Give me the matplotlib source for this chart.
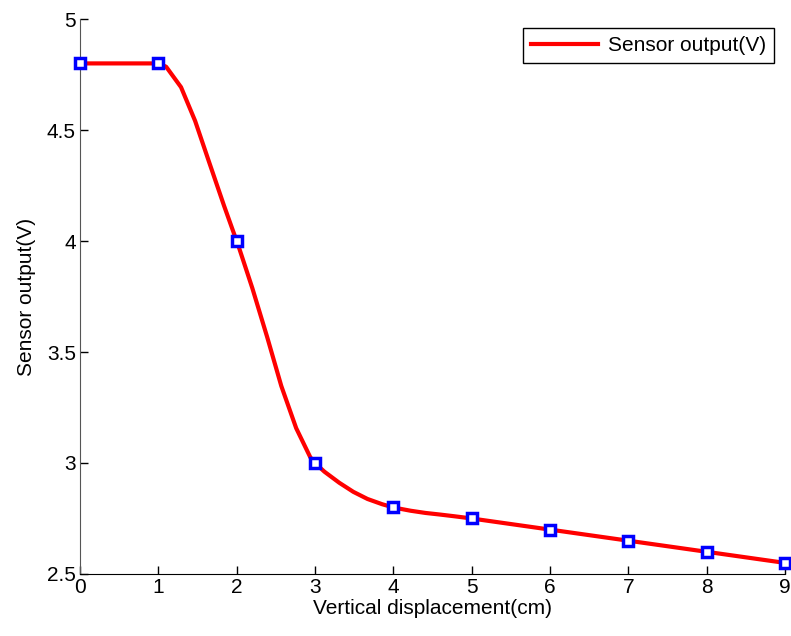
import numpy as np
import matplotlib
matplotlib.use("Agg")
import matplotlib.pyplot as plt

plt.rcParams['font.family'] = ['Liberation Sans', 'DejaVu Sans']

# -------------------------
# measured points (markers)
# -------------------------
disp_cm = [0, 1, 2, 3, 4, 5, 6, 7, 8, 9]
volts = [4.8, 4.8, 4.0, 3.0, 2.8, 2.75, 2.7, 2.65, 2.6, 2.55]

# smooth red curve, vertices
curve_x = [0.0, 1.0, 1.10, 1.29, 1.47, 1.65, 1.84,
           2.0, 2.02, 2.20, 2.39, 2.57, 2.76, 2.94,
           3.0, 3.12, 3.31, 3.49, 3.67, 3.86,
           4.0, 4.04, 4.22, 4.41, 4.59, 4.78, 4.96, 9.0]
curve_y = [4.8, 4.8, 4.785, 4.693, 4.541, 4.354, 4.158,
           4.0, 3.981, 3.788, 3.567, 3.347, 3.157, 3.026,
           3.0, 2.961, 2.911, 2.870, 2.838, 2.814,
           2.8, 2.797, 2.785, 2.775, 2.768, 2.760, 2.752, 2.55]

fig = plt.figure(figsize=(7.91, 6.36), dpi=100)
ax = fig.add_axes([0.1011, 0.0975, 0.8913, 0.8726])

ax.plot(curve_x, curve_y, color="red", lw=3, label="Sensor output(V)", zorder=2)
ax.plot(disp_cm, volts, ls="none", marker="s", ms=7.5, mfc="white",
        mec="blue", mew=2.5, zorder=3, clip_on=False)

ax.set_xlim(0, 9)
ax.set_ylim(2.5, 5)
ax.set_xticks(range(0, 10))
ax.set_yticks([2.5, 3, 3.5, 4, 4.5, 5])
ax.set_yticklabels(["2.5", "3", "3.5", "4", "4.5", "5"])
ax.tick_params(direction="in", length=6, labelsize=15, width=1, pad=3)
ax.spines["top"].set_visible(False)
ax.spines["right"].set_visible(False)
ax.spines["left"].set_color("#555555")
ax.spines["bottom"].set_color("black")

ax.set_xlabel("Vertical displacement(cm)", fontsize=15, labelpad=1)
ax.set_ylabel("Sensor output(V)", fontsize=15, labelpad=8)

leg = ax.legend(loc="upper right", fontsize=15, fancybox=False, framealpha=1,
                edgecolor="black", handlelength=3.2, handletextpad=0.5,
                borderpad=0.38, borderaxespad=0,
                bbox_to_anchor=(0.9845, 0.984))
leg.get_frame().set_linewidth(1)

fig.savefig("out.png", dpi=100)
